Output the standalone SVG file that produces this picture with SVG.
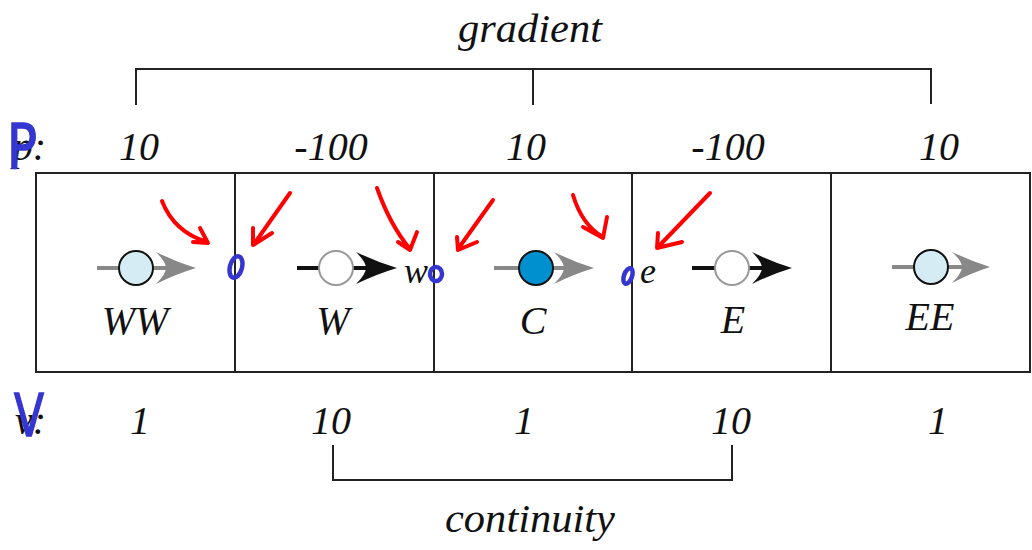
<svg xmlns="http://www.w3.org/2000/svg" width="1032" height="550" viewBox="0 0 1032 550">
<style>
.t{font-family:"Liberation Serif","Times New Roman",serif;font-style:italic;font-size:40px;fill:#111;text-anchor:middle}
.ln{stroke:#222;stroke-width:2;fill:none}
.gl{stroke:#888;stroke-width:4}
.bl{stroke:#111;stroke-width:4}
.gh{fill:#888}
.bh{fill:#111}
.red{stroke:#f00;stroke-width:4;fill:none;stroke-linecap:round;stroke-linejoin:round}
.blue{stroke:#3535d0;stroke-width:4.5;fill:none}
.hand{font-family:"DejaVu Sans",sans-serif;fill:#3535d0;stroke:#3535d0;stroke-width:1.5}
</style>
<rect width="1032" height="550" fill="#fff"/>
<g id="brackets">
<text class="t" x="530" y="42" textLength="144" lengthAdjust="spacingAndGlyphs">gradient</text>
<path class="ln" d="M136,105 V69 H931 V104 M533,69 V105"/>
<path class="ln" d="M333,445 V480 H732 V445"/>
<text class="t" x="530" y="532" textLength="170" lengthAdjust="spacingAndGlyphs">continuity</text>
</g>
<g id="p-row">
<text class="t" x="46" y="160" style="text-anchor:end">p:</text>
<text class="t" x="139" y="160">10</text>
<text class="t" x="331" y="160">-100</text>
<text class="t" x="526" y="160">10</text>
<text class="t" x="728" y="160">-100</text>
<text class="t" x="939" y="160">10</text>
</g>
<g id="v-row">
<text class="t" x="46" y="434" style="text-anchor:end">v:</text>
<text class="t" x="140" y="434">1</text>
<text class="t" x="331" y="434">10</text>
<text class="t" x="524" y="434">1</text>
<text class="t" x="731" y="434">10</text>
<text class="t" x="938" y="434">1</text>
</g>
<g id="grid">
<rect class="ln" x="36" y="173" width="994" height="199"/>
<path class="ln" d="M235,173 V372 M434,173 V372 M632,173 V372 M831,173 V372"/>
</g>
<g id="node-WW">
<line class="gl" x1="97" y1="268" x2="166" y2="268"/>
<path class="gh" d="M196,268 Q176,262 156,252 Q166,262 166,268 Q166,274 156,284 Q176,274 196,268 Z"/>
<circle cx="136" cy="268" r="17" fill="#d6ecf5" stroke="#111" stroke-width="2"/>
<text class="t" x="135" y="334">WW</text>
</g>
<g id="node-W">
<line class="bl" x1="297" y1="268" x2="366" y2="268"/>
<path class="bh" d="M397,268 Q377,262 356,252 Q366,262 366,268 Q366,274 356,284 Q377,274 397,268 Z"/>
<circle cx="336" cy="268" r="17" fill="#fff" stroke="#999" stroke-width="2"/>
<text class="t" x="333" y="334">W</text>
<text class="t" x="416" y="283" style="font-size:36px">w</text>
</g>
<g id="node-C">
<line class="gl" x1="494" y1="268" x2="564" y2="268"/>
<path class="gh" d="M594,268 Q574,262 554,252 Q564,262 564,268 Q564,274 554,284 Q574,274 594,268 Z"/>
<circle cx="536" cy="268" r="17" fill="#0090cf" stroke="#111" stroke-width="2"/>
<text class="t" x="533" y="334">C</text>
</g>
<g id="node-E">
<line class="bl" x1="692" y1="268" x2="762" y2="268"/>
<path class="bh" d="M792,268 Q772,262 752,252 Q762,262 762,268 Q762,274 752,284 Q772,274 792,268 Z"/>
<circle cx="732" cy="268" r="17" fill="#fff" stroke="#999" stroke-width="2"/>
<text class="t" x="733" y="333">E</text>
<text class="t" x="648" y="283" style="font-size:36px">e</text>
</g>
<g id="node-EE">
<line class="gl" x1="892" y1="267" x2="962" y2="267"/>
<path class="gh" d="M990,267 Q971,261 952,252 Q962,261 962,267 Q962,273 952,283 Q971,273 990,267 Z"/>
<circle cx="931" cy="267" r="17" fill="#d6ecf5" stroke="#111" stroke-width="2"/>
<text class="t" x="930" y="330">EE</text>
</g>
<g id="annotations">
<text class="hand" x="7" y="168" font-size="62" textLength="30" lengthAdjust="spacingAndGlyphs">P</text>
<text class="hand" x="14" y="436" font-size="58" textLength="30" lengthAdjust="spacingAndGlyphs">V</text>
<ellipse class="blue" cx="236" cy="267" rx="6" ry="11" transform="rotate(15 236 267)"/>
<ellipse class="blue" cx="436" cy="274" rx="6" ry="7"/>
<ellipse class="blue" cx="628" cy="276" rx="4" ry="8" stroke-width="5" transform="rotate(20 628 276)"/>
<path class="red" d="M162,201 Q174,232 207,242 M200,228 L208,243 L193,242"/>
<path class="red" d="M290,193 L254,244 M253,228 L253,245 L272,233"/>
<path class="red" d="M377,188 Q390,225 410,249 M398,242 L410,250 L417,232"/>
<path class="red" d="M493,200 L458,249 M457,237 L458,250 L477,242"/>
<path class="red" d="M573,195 Q582,225 603,237 M583,227 L603,238 L607,217"/>
<path class="red" d="M710,193 L658,247 M658,233 L657,248 L682,242"/>
</g>
</svg>
